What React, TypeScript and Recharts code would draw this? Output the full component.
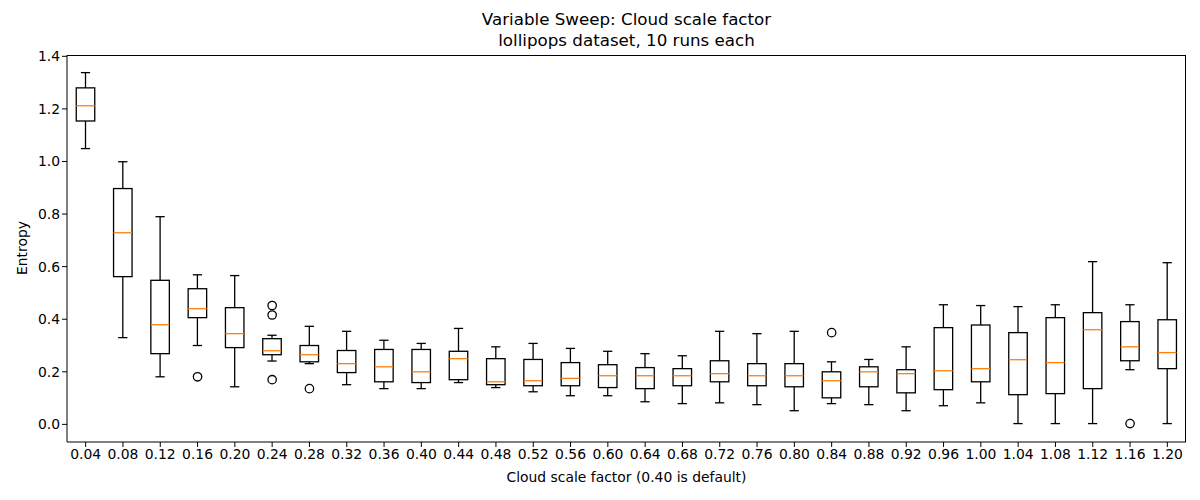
import React from "react";
import { Bar, ComposedChart, Line, XAxis, YAxis } from "recharts";

const labels = [
  "0.04", "0.08", "0.12", "0.16", "0.20", "0.24", "0.28", "0.32", "0.36", "0.40",
  "0.44", "0.48", "0.52", "0.56", "0.60", "0.64", "0.68", "0.72", "0.76", "0.80",
  "0.84", "0.88", "0.92", "0.96", "1.00", "1.04", "1.08", "1.12", "1.16", "1.20",
];

const whiskerHigh = [
  1.338, 0.999, 0.79, 0.569, 0.566, 0.339, 0.373, 0.354, 0.32, 0.308,
  0.365, 0.295, 0.308, 0.289, 0.278, 0.269, 0.261, 0.354, 0.345, 0.354,
  0.238, 0.247, 0.295, 0.455, 0.452, 0.448, 0.455, 0.619, 0.455, 0.615,
];
const q3 = [
  1.28, 0.897, 0.548, 0.516, 0.444, 0.326, 0.3, 0.281, 0.285, 0.285,
  0.278, 0.25, 0.247, 0.235, 0.227, 0.216, 0.212, 0.242, 0.231, 0.231,
  0.2, 0.219, 0.208, 0.368, 0.378, 0.349, 0.406, 0.425, 0.391, 0.398,
];
const median = [
  1.212, 0.729, 0.379, 0.44, 0.345, 0.28, 0.265, 0.231, 0.219, 0.2,
  0.25, 0.162, 0.166, 0.175, 0.185, 0.185, 0.185, 0.193, 0.185, 0.185,
  0.166, 0.2, 0.193, 0.204, 0.212, 0.246, 0.235, 0.36, 0.295, 0.273,
];
const q1 = [
  1.154, 0.562, 0.269, 0.406, 0.292, 0.265, 0.238, 0.197, 0.162, 0.159,
  0.17, 0.151, 0.147, 0.147, 0.14, 0.136, 0.147, 0.162, 0.147, 0.143,
  0.101, 0.143, 0.12, 0.132, 0.162, 0.113, 0.117, 0.136, 0.242, 0.212,
];
const whiskerLow = [
  1.049, 0.33, 0.181, 0.3, 0.143, 0.241, 0.231, 0.151, 0.136, 0.136,
  0.159, 0.14, 0.124, 0.109, 0.109, 0.086, 0.079, 0.082, 0.075, 0.052,
  0.079, 0.075, 0.052, 0.071, 0.082, 0.003, 0.003, 0.003, 0.208, 0.003,
];
// fliers per category (index -> values)
const outliers: number[][] = labels.map(() => []);
outliers[3] = [0.181];
outliers[5] = [0.452, 0.416, 0.17];
outliers[6] = [0.136];
outliers[20] = [0.349];
outliers[28] = [0.003];

const yTicks = [0, 0.2, 0.4, 0.6, 0.8, 1.0, 1.2, 1.4];
const yDomain = [-0.067, 1.405];

const data = labels.map((label, i) => ({
  label,
  range: [whiskerLow[i], whiskerHigh[i]],
  low: whiskerLow[i],
  q1: q1[i],
  med: median[i],
  q3: q3[i],
  high: whiskerHigh[i],
  out0: outliers[i][0] ?? null,
  out1: outliers[i][1] ?? null,
  out2: outliers[i][2] ?? null,
}));

const FONT = "'DejaVu Sans', sans-serif";
const LW = 1.3;

function BoxShape(props: any) {
  const { x, y, width, height, payload } = props;
  const top = Math.min(y, y + height);
  const bottom = Math.max(y, y + height);
  const { low, high } = payload;
  const k = (bottom - top) / (high - low);
  const toY = (v: number) => bottom - (v - low) * k;
  const cx = x + width / 2;
  const boxW = width * 0.5;
  const capW = boxW * 0.5;
  const yq1 = toY(payload.q1);
  const yq3 = toY(payload.q3);
  const ym = toY(payload.med);
  return (
    <g>
      <line x1={cx} x2={cx} y1={top} y2={yq3} stroke="#000" strokeWidth={LW} />
      <line x1={cx} x2={cx} y1={yq1} y2={bottom} stroke="#000" strokeWidth={LW} />
      <line x1={cx - capW / 2} x2={cx + capW / 2} y1={top} y2={top} stroke="#000" strokeWidth={LW} />
      <line x1={cx - capW / 2} x2={cx + capW / 2} y1={bottom} y2={bottom} stroke="#000" strokeWidth={LW} />
      <rect x={cx - boxW / 2} y={yq3} width={boxW} height={yq1 - yq3} fill="none" stroke="#000" strokeWidth={LW} />
      <line x1={cx - boxW / 2} x2={cx + boxW / 2} y1={ym} y2={ym} stroke="#ff7f0e" strokeWidth={LW} />
    </g>
  );
}

function fliersDot(key: string) {
  return (props: any) => {
    const { cx, cy, index, payload } = props;
    if (cy == null || payload[key] == null) return <g key={`${key}-${index}`} />;
    return (
      <circle key={`${key}-${index}`} cx={cx} cy={cy} r={4.2} fill="none" stroke="#000" strokeWidth={LW} />
    );
  };
}

export default function App() {
  return (
    <div style={{ position: "absolute", left: 0, top: 0, width: 1200, height: 500, background: "#fff", fontFamily: FONT }}>
      <div
        style={{
          position: "absolute",
          left: 67,
          width: 1119,
          top: 9,
          textAlign: "center",
          fontSize: 16.7,
          lineHeight: "21px",
          color: "#000",
        }}
      >
        Variable Sweep: Cloud scale factor
        <br />
        lollipops dataset, 10 runs each
      </div>
      <ComposedChart
        width={1200}
        height={500}
        data={data}
        barCategoryGap={0}
        margin={{ top: 55, right: 14, left: 17, bottom: 28 }}
      >
        <XAxis
          dataKey="label"
          interval={0}
          tickSize={5}
          height={30}
          tick={{ fontSize: 13.9, fill: "#000", fontFamily: FONT }}
          tickLine={{ stroke: "#000" }}
          axisLine={{ stroke: "#000" }}
        />
        <YAxis
          type="number"
          domain={yDomain}
          ticks={yTicks}
          width={50}
          tickSize={5}
          tickFormatter={(v: number) => v.toFixed(1)}
          tick={{ fontSize: 13.9, fill: "#000", fontFamily: FONT }}
          tickLine={{ stroke: "#000" }}
          axisLine={{ stroke: "#000" }}
        />
        <Bar dataKey="range" shape={<BoxShape />} isAnimationActive={false} />
        {["out0", "out1", "out2"].map((k) => (
          <Line
            key={k}
            dataKey={k}
            stroke="none"
            dot={fliersDot(k)}
            activeDot={false}
            isAnimationActive={false}
            connectNulls={false}
          />
        ))}
      </ComposedChart>
      {/* top and right spines */}
      <div
        style={{
          position: "absolute",
          left: 67,
          top: 55,
          width: 1119,
          height: 387,
          boxSizing: "border-box",
          borderTop: "1px solid #000",
          borderRight: "1px solid #000",
          pointerEvents: "none",
        }}
      />
      <div
        style={{
          position: "absolute",
          left: 67,
          width: 1119,
          top: 469,
          textAlign: "center",
          fontSize: 13.9,
          color: "#000",
        }}
      >
        Cloud scale factor (0.40 is default)
      </div>
      <div
        style={{
          position: "absolute",
          left: 22,
          top: 248,
          transform: "translate(-50%, -50%) rotate(-90deg)",
          fontSize: 13.9,
          color: "#000",
          whiteSpace: "nowrap",
        }}
      >
        Entropy
      </div>
    </div>
  );
}
